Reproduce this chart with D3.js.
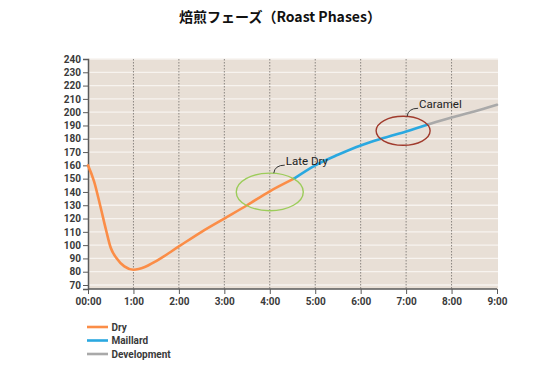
<!DOCTYPE html>
<html><head><meta charset="utf-8">
<script src="https://cdn.jsdelivr.net/npm/d3@7"></script>
<style>body{margin:0;background:#fff}svg{display:block}</style>
</head><body><svg id="c" width="557" height="373"></svg>
<script>
const title = "焙煎フェーズ（Roast Phases）";
const yTicks = [70,80,90,100,110,120,130,140,150,160,170,180,190,200,210,220,230,240];
const xTicks = [0,60,120,180,240,300,360,420,480,540];
const xTickLabels = ["00:00","1:00","2:00","3:00","4:00","5:00","6:00","7:00","8:00","9:00"];
const dryT = [0,8,16,24,30,38,48,60,75,90,120,150,180,210,240,272];
const dryV = [160,148,130,111,98,90,84,81.5,83.5,88,99,110,120,130,140.5,150];
const maillardT = [272,300,330,360,390,420,450];
const maillardV = [150,160,168,175,180.5,185.5,191];
const devT = [450,480,510,540];
const devV = [191,196,200.5,205.5];
const seriesNames = ["Dry","Maillard","Development"];
const seriesColors = ["#fb8d47","#2aa8e0","#a9a9a9"];
const annotations = [
  {label:"Late Dry", t:240, v:140, color:"#9ccc5a"},
  {label:"Caramel", t:420, v:186, color:"#a03a2c"}
];

const svg = d3.select("#c");
const x = d3.scaleLinear().domain([0,540]).range([88,497]);
const y = d3.scaleLinear().domain([67,240]).range([289,59]);

svg.append("text").attr("x",280).attr("y",22).attr("text-anchor","middle")
  .attr("font-family","'Noto Sans CJK JP', sans-serif").attr("font-weight","bold")
  .attr("font-size",14).attr("fill","#111").text(title);

svg.append("rect").attr("x",x(0)).attr("y",y(240)).attr("width",x(540)-x(0)+1).attr("height",y(67)-y(240))
  .attr("fill","#e8dfd6");

// horizontal grid
svg.append("g").selectAll("line").data(yTicks).join("line")
  .attr("x1",x(0)).attr("x2",x(540)+1).attr("y1",d=>y(d)).attr("y2",d=>y(d))
  .attr("stroke","#f7f3ef").attr("stroke-width",1.3);
// vertical dotted
svg.append("g").selectAll("line").data(xTicks.slice(1,-1)).join("line")
  .attr("x1",d=>x(d)).attr("x2",d=>x(d)).attr("y1",y(240)).attr("y2",y(67))
  .attr("stroke","#8a8580").attr("stroke-width",1).attr("stroke-dasharray","1.5,1.5");

const fontAxis = "Roboto, sans-serif";
const yAxis = svg.append("g").attr("transform",`translate(${x(0)},0)`)
  .call(d3.axisLeft(y).tickValues(yTicks).tickSize(5).tickPadding(2));
const xAxis = svg.append("g").attr("transform",`translate(0,${y(67)})`)
  .call(d3.axisBottom(x).tickValues(xTicks).tickFormat((d,i)=>xTickLabels[i]).tickSize(5).tickPadding(4));
[yAxis,xAxis].forEach(g=>{
  g.select(".domain").attr("stroke","#5a5a5a").attr("stroke-width",1.5);
  g.selectAll(".tick line").attr("stroke","#5a5a5a");
  g.selectAll("text").attr("font-family",fontAxis).attr("font-weight","bold").attr("font-size",10).attr("fill","#3a3a3a");
});
xAxis.select(".domain").attr("d",`M${x(0)},0H${x(540)}`);

const line = d3.line().x(d=>x(d[0])).y(d=>y(d[1])).curve(d3.curveMonotoneX);
const series = [[dryT,dryV],[maillardT,maillardV],[devT,devV]];
series.forEach((s,i)=>{
  const pts = s[0].map((t,j)=>[t,s[1][j]]);
  svg.append("path").attr("d",line(pts)).attr("fill","none")
    .attr("stroke",seriesColors[i]).attr("stroke-width",2.6).attr("stroke-linecap","round");
});

// annotations
const ell = [{rx:33.5, ry:18.8},{rx:27, ry:14.5}];
const dx = [0, -3];
const dy = [0, 0];
annotations.forEach((a,i)=>{
  const cx = x(a.t)+dx[i], cy = y(a.v)+dy[i];
  svg.append("ellipse").attr("cx",cx).attr("cy",cy).attr("rx",ell[i].rx).attr("ry",ell[i].ry)
    .attr("fill","none").attr("stroke",a.color).attr("stroke-width",1.4);
  const x1 = cx+4, y1 = cy-ell[i].ry;
  const x2 = x1+11, y2 = y1-8;
  svg.append("path").attr("d",`M${x1},${y1}Q${x1+1},${y2} ${x2},${y2}`)
    .attr("fill","none").attr("stroke","#333").attr("stroke-width",1);
  svg.append("text").attr("x",x2+1).attr("y",y2).attr("font-family","Roboto, sans-serif")
    .attr("font-size",11.5).attr("fill","#222").text(a.label);
});

// legend
const lg = svg.append("g");
seriesNames.forEach((n,i)=>{
  const yy = 327 + i*13.5;
  lg.append("line").attr("x1",87).attr("x2",108).attr("y1",yy).attr("y2",yy)
    .attr("stroke",seriesColors[i]).attr("stroke-width",2.6);
  lg.append("text").attr("x",111.5).attr("y",yy+3.5).attr("font-family",fontAxis)
    .attr("font-weight","bold").attr("font-size",10).attr("fill","#3a3a3a").text(n);
});
</script></body></html>
